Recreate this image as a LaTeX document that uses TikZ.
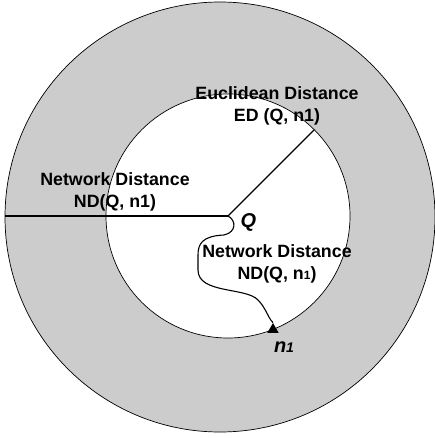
\documentclass[tikz,border=0pt]{standalone}
\usepackage{fontspec}
\setmainfont{Liberation Sans}
\usetikzlibrary{shapes.geometric,calc}

\begin{document}
\begin{tikzpicture}[x=1bp, y=-1bp,
  lbl/.style={font=\fontsize{17.8bp}{22.5bp}\selectfont\bfseries, align=center, inner sep=0pt},
  pt/.style={font=\fontsize{20bp}{22bp}\selectfont\bfseries\itshape, inner sep=0pt},
  ring/.style={draw=black, line width=0.7bp},
  dist/.style={draw=black, line width=1.1bp}]
\useasboundingbox (0,0) rectangle (435,438);
% the two rings
\fill[black!20] (220,217) circle[radius=215];
\fill[white] (228,216) circle[radius=122];
\draw[ring] (220,217) circle[radius=215];
\draw[ring] (228,216) circle[radius=122];
% points
\coordinate (c) at (228,216);
\coordinate (west) at (5,216);
\coordinate (rim) at ($(228,216)+(-45:122)$);
\node[regular polygon, regular polygon sides=3, fill=black, minimum size=13bp, inner sep=0pt] (n1) at (273,329.5) {};
\node[pt] (qlab) at (248.5,222) {Q};
\node[pt] (nlab) at (284,347) {n{\fontsize{14bp}{14bp}\selectfont 1}};
% distances
\draw[dist, line width=1.5bp] (west) -- (c);
\draw[dist] (c) -- (rim);
\draw[dist] (c) .. controls (236,220) and (237,232) .. (224,235)
  .. controls (202,236) and (198,244) .. (198,255) -- (198,270)
  .. controls (198,294) and (246,287) .. (258,300)
  .. controls (266,308) and (268,318) .. (n1.corner 1);
% labels
\node[lbl] (eucl) at (277,106) {Euclidean Distance\\ED (Q, n1)};
\node[lbl] (ndl) at (115,192) {Network Distance\\ND(Q, n1)};
\node[lbl] (ndr) at (277,264) {Network Distance\\ND(Q, n{\fontsize{12bp}{12bp}\selectfont 1})};
\end{tikzpicture}
\end{document}
